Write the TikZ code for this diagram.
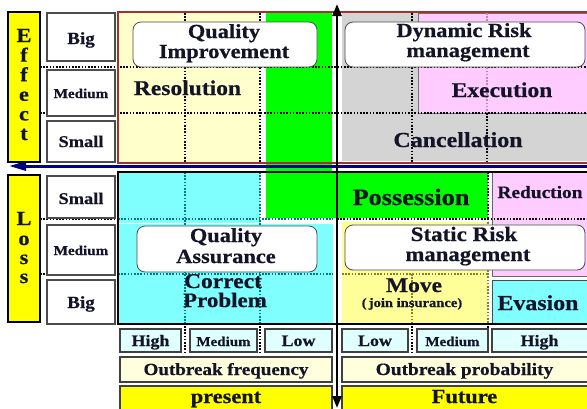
\documentclass[tikz,border=0pt]{standalone}
\usepackage{fontspec}
\newfontfamily\tf{Liberation Serif}[FakeStretch=1.12, FakeBold=0.6]
\usetikzlibrary{arrows.meta}
\definecolor{cream}{RGB}{255,255,204}
\definecolor{grn}{RGB}{0,255,0}
\definecolor{gry}{RGB}{212,212,212}
\definecolor{pnk}{RGB}{255,204,255}
\definecolor{cyn}{RGB}{128,255,255}
\definecolor{lyel}{RGB}{255,255,153}
\definecolor{ylw}{RGB}{255,255,0}
\definecolor{pcyan}{RGB}{224,255,255}
\definecolor{pyel}{RGB}{255,255,221}
\definecolor{navyb}{RGB}{0,0,128}
\definecolor{txt}{RGB}{20,20,40}
\definecolor{redb}{RGB}{160,50,50}
\definecolor{dteal}{RGB}{0,120,130}
\definecolor{dolive}{RGB}{130,130,40}
\newcommand\myfs[1]{\fontsize{#1}{#1}\selectfont}
\tikzset{
  t/.style={inner sep=0pt, anchor=base, text=txt, font=\tf\bfseries\myfs{#1}},
  dotl/.style={line width=1.6pt, dash pattern=on 1.6pt off 1.6pt},
  lbox/.style={fill=white, draw=black!70, line width=1.2pt},
  rbox/.style={fill=white, draw=black!70, line width=0.8pt, rounded corners=8pt},
  bbox/.style={draw=black!75, line width=1.2pt},
}
\begin{document}
\begin{tikzpicture}[x=1pt,y=-1pt]
\useasboundingbox (0,0) rectangle (587,408);
\fill[white] (0,0) rectangle (587,408);
% top fills
\fill[cream] (118,13) rectangle (260,162);
\fill[grn] (266,13) rectangle (332,218);
\fill[gry] (342,13) rectangle (587,161);
\filldraw[fill=pnk, draw=black!55, line width=0.6pt] (418,13) rectangle (590,113);
% bottom fills
\fill[cyn] (118,173) rectangle (260,223);
\fill[cyn] (118,224) rectangle (333,323);
\fill[grn] (266,172) rectangle (488,218);
\fill[lyel] (342,222) rectangle (488,323);
\filldraw[fill=pnk, draw=black!60, line width=0.6pt] (492,172) rectangle (590,276);
\filldraw[fill=cyn, draw=black!70, line width=0.8pt] (492,280) rectangle (590,323);
% dotted grid
\draw[dotl] (40,67) -- (587,67);
\draw[dotl] (40,113) -- (587,113);
\draw[dotl] (40,219) -- (118,219);
\draw[dotl] (40,274) -- (118,274);
\draw[dotl, dteal] (118,219) -- (333,219);
\draw[dotl, dteal] (118,274) -- (333,274);
\draw[dotl] (337,219) -- (587,219);
\draw[dotl, dolive] (342,274) -- (488,274);
\draw[dotl] (185,13) -- (185,162);
\draw[dotl] (260,13) -- (260,162);
\draw[dotl] (412,13) -- (412,162);
\draw[dotl, pnk!70!black] (487,13) -- (487,113);
\draw[dotl] (487,113) -- (487,162);
\draw[dotl, dteal] (185,172) -- (185,323);
\draw[dotl, dteal] (260,172) -- (260,323);
\draw[dotl] (488,172) -- (488,218);
\draw[dotl, dolive] (488,222) -- (488,323);
\draw[dotl, dolive] (412,274) -- (412,323);
\draw[dotl] (185,326) -- (185,354);
\draw[dotl] (260,326) -- (260,354);
\draw[dotl] (412,326) -- (412,354);
\draw[dotl] (488,326) -- (488,354);
% borders
\draw[redb, line width=1.8pt] (118,12) rectangle (592,163);
\draw[black, line width=1.8pt] (118,172) rectangle (592,324);
% rounded boxes
\draw[rbox] (133,22) rectangle (317,67);
\draw[rbox] (345,22) rectangle (585,67);
\draw[rbox] (137,226) rectangle (317,272);
\draw[rbox] (345,225) rectangle (585,270);
% left label boxes
\draw[lbox] (47,13) rectangle (115,61);
\draw[lbox] (47,70) rectangle (115,116);
\draw[lbox] (47,121) rectangle (115,162);
\draw[lbox] (47,176) rectangle (115,218);
\draw[lbox] (47,225) rectangle (115,275);
\draw[lbox] (47,280) rectangle (115,324);
% yellow side boxes
\filldraw[fill=ylw, draw=black, line width=1.5pt] (8,12) rectangle (40,162);
\filldraw[fill=ylw, draw=black, line width=1.5pt] (8,175) rectangle (40,322);
% bottom rows
\filldraw[bbox, fill=pcyan] (120,329) rectangle (181,352);
\filldraw[bbox, fill=pcyan] (190,329) rectangle (257,352);
\filldraw[bbox, fill=pcyan] (265,329) rectangle (332,352);
\filldraw[bbox, fill=pcyan] (342,329) rectangle (408,352);
\filldraw[bbox, fill=pcyan] (417,329) rectangle (488,352);
\filldraw[bbox, fill=pcyan] (492,329) rectangle (590,352);
\filldraw[bbox, fill=pyel] (120,357) rectangle (332,382);
\filldraw[bbox, fill=pyel] (342,357) rectangle (590,382);
\filldraw[bbox, fill=ylw] (120,386) rectangle (332,412);
\filldraw[bbox, fill=ylw] (342,386) rectangle (590,412);
% texts
\foreach \ch/\yy [count=\i] in {E/42,f/61.6,f/81.2,e/100.8,c/120.4,t/140}
  \node[t=20] (eff\i) at (24,\yy) {\ch};
\foreach \ch/\yy [count=\i] in {L/225,o/245,s/264,s/283}
  \node[t=20] (los\i) at (24,\yy) {\ch};
\node[t=17] (lbig1) at (81,44) {Big};
\node[t=13.5] (lmed1) at (81,98) {Medium};
\node[t=16.4] (lsml1) at (81,147) {Small};
\node[t=16.4] (lsml2) at (81,204) {Small};
\node[t=13.5] (lmed2) at (81,255) {Medium};
\node[t=17] (lbig2) at (81,308) {Big};
\node[t=20] (qi1) at (224,38) {Quality};
\node[t=20] (qi2) at (224,58) {Improvement};
\node[t=21] (res) at (187.5,95) {Resolution};
\node[t=20] (dr1) at (464,37) {Dynamic Risk};
\node[t=20] (dr2) at (468,57) {management};
\node[t=21] (exe) at (502,97) {Execution};
\node[t=21.4] (can) at (458,147) {Cancellation};
\node[t=23.5] (pos) at (411,205) {Possession};
\node[t=17.3] (red) at (540,198) {Reduction};
\node[t=20] (qa1) at (226,242) {Quality};
\node[t=20] (qa2) at (226,263) {Assurance};
\node[t=21] (cp1) at (223,288) {Correct};
\node[t=20.5] (cp2) at (225,307) {Problem};
\node[t=20.5] (sr1) at (464,241) {Static Risk};
\node[t=20.3] (sr2) at (468,261) {management};
\node[t=21] (mov) at (414,292) {Move};
\node[t=13] (ins) at (412,307) {(\,join insurance)};
\node[t=21.3] (eva) at (538,310) {Evasion};
\node[t=16] (h1) at (150.5,346) {High};
\node[t=13.4] (m1) at (223.5,346) {Medium};
\node[t=16] (l1) at (298.5,346) {Low};
\node[t=16] (l2) at (375,346) {Low};
\node[t=13.4] (m2) at (452.5,346) {Medium};
\node[t=16] (h2) at (539.5,346) {High};
\node[t=17] (of) at (226,375) {Outbreak frequency};
\node[t=17.3] (op) at (464.5,375) {Outbreak probability};
\node[t=20] (pre) at (226,403) {present};
\node[t=20] (fut) at (464.5,403) {Future};
% axes
\coordinate (vb) at (337,408);
\coordinate (vt) at (337,4);
\coordinate (hr) at (592,166);
\coordinate (hl) at (9,166);
\draw[navyb, line width=3pt, -{Triangle[length=17pt,width=9pt]}] (hr) -- (hl);
\draw[black, line width=2.5pt, {Triangle[length=12pt,width=9pt]}-{Triangle[length=12pt,width=9pt]}] (vb) -- (vt);
\end{tikzpicture}
\end{document}
